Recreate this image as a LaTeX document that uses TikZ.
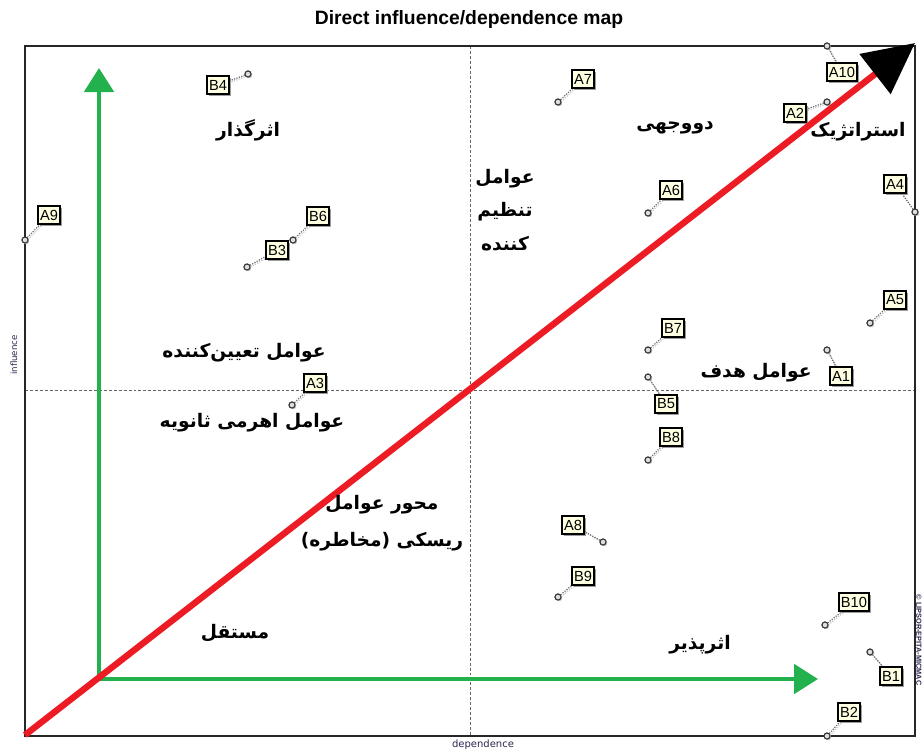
\documentclass[tikz,border=0pt]{standalone}
\usepackage{fontspec}
\setmainfont{Liberation Sans}
\newfontfamily\fa[Script=Arabic]{DejaVu Sans}
\newfontfamily\dv{DejaVu Sans}
\TeXXeTstate=1
\usetikzlibrary{arrows.meta,shadows}
\definecolor{pred}{RGB}{237,28,36}
\definecolor{pgreen}{RGB}{34,177,76}
\definecolor{labfill}{RGB}{255,255,225}
\definecolor{axtxt}{RGB}{40,40,80}
\tikzset{
 lab/.style={draw=black, line width=0.9pt, fill=labfill, font=\fontsize{11}{12}\selectfont,
   inner xsep=1.5pt, inner ysep=0pt, minimum height=13.5pt,
   drop shadow={shadow xshift=1.8pt, shadow yshift=-1.8pt, fill=gray!80, opacity=0.8}},
 pt/.style={circle, draw=gray!40!black, fill=gray!25, line width=0.75pt, inner sep=0pt, minimum size=4.5pt,
   drop shadow={shadow xshift=0.8pt, shadow yshift=-0.8pt, fill=gray!60, opacity=0.8}},
 conn/.style={gray!85!black, densely dotted, line width=0.9pt},
 connsh/.style={gray!45, densely dotted, line width=0.9pt},
 fatext/.style={font=\fa\bfseries\fontsize{14}{24}\selectfont, align=center, inner sep=0pt},
 midline/.style={gray!80!black, dash pattern=on 2.2pt off 1.5pt, line width=0.6pt},
 garrow/.style={pgreen, line width=3pt, -{Triangle[length=18pt,width=22pt]}},
 rarrow/.style={pred, line width=4.8pt, -{Triangle[length=38pt,width=37pt,color=black]}}
}
\begin{document}
\begin{tikzpicture}[x=0.75pt,y=-0.75pt]
\useasboundingbox (0,0) rectangle (924,754);
% title
\node[font=\bfseries\fontsize{14.5}{16}\selectfont] (title) at (469,19) {Direct influence/dependence map};
% frame and mid lines
\draw[midline] (470,46) -- (470,736);
\draw[midline] (25,390) -- (915,390);
\draw[line width=1.1pt, black!85] (25,46) rectangle (915,736);
% axis labels
\node[font=\dv\fontsize{6.5}{7}\selectfont, text=axtxt, rotate=90] (infl) at (14,355) {influence};
\node[font=\dv\fontsize{7.5}{8}\selectfont, text=axtxt] (dep) at (483,745) {dependence};
\node[font=\bfseries\fontsize{5.5}{6}\selectfont, text=axtxt, rotate=-90] (copy) at (919,640) {© LIPSOR-EPITA-MICMAC};
% points
\node[pt] (pA10) at (827,46) {};
\node[pt] (pA2) at (827,102) {};
\node[pt] (pA4) at (915,212) {};
\node[pt] (pA6) at (648,213) {};
\node[pt] (pA7) at (558,102) {};
\node[pt] (pA9) at (25,240) {};
\node[pt] (pB4) at (248,74) {};
\node[pt] (pB6) at (293,240) {};
\node[pt] (pB3) at (247,267) {};
\node[pt] (pA3) at (292,405) {};
\node[pt] (pB7) at (648,350) {};
\node[pt] (pA1) at (827,350) {};
\node[pt] (pB5) at (648,377) {};
\node[pt] (pB8) at (648,460) {};
\node[pt] (pA5) at (870,323) {};
\node[pt] (pA8) at (603,542) {};
\node[pt] (pB9) at (558,597) {};
\node[pt] (pB10) at (825,625) {};
\node[pt] (pB1) at (870,652) {};
\node[pt] (pB2) at (827,736) {};
% labels
\node[lab] (A10) at (842,72) {A10};
\node[lab] (A2) at (795,113) {A2};
\node[lab] (A4) at (895,184) {A4};
\node[lab] (A6) at (671,190) {A6};
\node[lab] (A7) at (583,79) {A7};
\node[lab] (A9) at (49,215) {A9};
\node[lab] (B4) at (218,85) {B4};
\node[lab] (B6) at (318,216) {B6};
\node[lab] (B3) at (277,250) {B3};
\node[lab] (A3) at (315,383) {A3};
\node[lab] (B7) at (673,328) {B7};
\node[lab] (A1) at (841,376) {A1};
\node[lab] (B5) at (666,404) {B5};
\node[lab] (B8) at (671,437) {B8};
\node[lab] (A5) at (895,300) {A5};
\node[lab] (A8) at (573,525) {A8};
\node[lab] (B9) at (583,576) {B9};
\node[lab] (B10) at (854,602) {B10};
\node[lab] (B1) at (891,676) {B1};
\node[lab] (B2) at (849,712) {B2};
% connectors
\foreach \n in {A10,A2,A4,A6,A7,A9,B4,B6,B3,A3,B7,A1,B5,B8,A5,A8,B9,B10,B1,B2}{
  \draw[connsh] ([shift={(1.3,1.3)}]p\n.center) -- ([shift={(1.3,1.3)}]\n.center);
  \draw[conn] (p\n) -- (\n);
}
% redraw labels and points on top of connectors
\foreach \n in {A10,A2,A4,A6,A7,A9,B4,B6,B3,A3,B7,A1,B5,B8,A5,A8,B9,B10,B1,B2}{
  \node[lab] at (\n.center) {\n};
  \node[pt] at (p\n.center) {};
}
% green axes
\coordinate (go) at (99,679);
\coordinate (gy) at (99,68);
\coordinate (gx) at (818,679);
\draw[garrow] (go) -- (gy);
\draw[garrow] ([xshift=-1.5pt]go) -- (gx);
% red diagonal
\coordinate (rs) at (25,735);
\coordinate (re) at (915,43);
\draw[rarrow] (rs) -- (re);
% persian texts
\node[fatext] (t1) at (248,130) {\beginR اثرگذار\endR};
\node[fatext] (t2) at (675,128) {\beginR دووجهی\endR};
\node[fatext] (t3) at (858,132) {\beginR استراتژیک\endR};
\node[fatext, font=\fa\bfseries\fontsize{14}{25}\selectfont] (t4) at (505,210) {\beginR عوامل\endR\\\beginR تنظیم\endR\\\beginR کننده\endR};
\node[fatext] (t5) at (244,353) {\beginR عوامل تعیین‌کننده\endR};
\node[fatext] (t6) at (252,423) {\beginR عوامل اهرمی ثانویه\endR};
\node[fatext] (t7) at (756,373) {\beginR عوامل هدف\endR};
\node[fatext, font=\fa\bfseries\fontsize{14}{28}\selectfont] (t8) at (382,523) {\beginR محور عوامل\endR\\\beginR ریسکی (مخاطره)\endR};
\node[fatext] (t9) at (235,633) {\beginR مستقل\endR};
\node[fatext] (t10) at (700,645) {\beginR اثرپذیر\endR};
\end{tikzpicture}
\end{document}
